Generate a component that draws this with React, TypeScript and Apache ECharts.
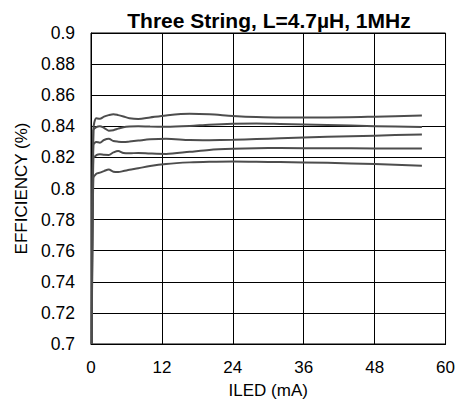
import React, { useEffect, useRef } from "react";
import * as echarts from "echarts";

const iled = [0.15, 0.4, 0.9, 1.5, 2.2, 3.0, 3.8, 4.6, 5.5, 6.5, 8, 10, 12.7, 16.7, 20, 24, 28, 32, 40, 48, 56];

const eff1 = [0.70, 0.838, 0.8452, 0.8448, 0.8462, 0.8472, 0.8478, 0.8472, 0.8463, 0.8452, 0.8447, 0.8457, 0.847, 0.848, 0.8477, 0.8467, 0.846, 0.8457, 0.8457, 0.8462, 0.847];
const eff2 = [0.70, 0.8375, 0.8395, 0.8401, 0.839, 0.8372, 0.8375, 0.8385, 0.8394, 0.8398, 0.84, 0.8398, 0.8397, 0.8402, 0.841, 0.8416, 0.8418, 0.8415, 0.8408, 0.8401, 0.8395];
const eff3 = [0.70, 0.8278, 0.8299, 0.8295, 0.8312, 0.832, 0.8305, 0.8301, 0.8299, 0.8302, 0.8308, 0.8316, 0.832, 0.8312, 0.8311, 0.8313, 0.8318, 0.8323, 0.8332, 0.834, 0.8348];
const eff4 = [0.70, 0.8195, 0.8214, 0.822, 0.8217, 0.8216, 0.8232, 0.8241, 0.8228, 0.8226, 0.8229, 0.8225, 0.8222, 0.8236, 0.8248, 0.8255, 0.8259, 0.826, 0.8259, 0.8258, 0.8258];
const eff5 = [0.70, 0.8065, 0.8095, 0.8102, 0.8112, 0.8122, 0.8108, 0.8106, 0.8112, 0.812, 0.813, 0.8145, 0.8158, 0.8168, 0.8172, 0.8174, 0.8172, 0.817, 0.8165, 0.8157, 0.8147];

const curves = [eff1, eff2, eff3, eff4, eff5];

const titleText = "Three String, L=4.7µH, 1MHz";
const xName = "ILED (mA)";
const yName = "EFFICIENCY (%)";

const FONT = "'Liberation Sans', Arial, sans-serif";

export default function App() {
  const ref = useRef<HTMLDivElement>(null);
  useEffect(() => {
    if (!ref.current) return;
    const chart = echarts.init(ref.current, null, { renderer: "svg" });
    chart.setOption({
      animation: false,
      backgroundColor: "#fff",
      title: {
        text: titleText,
        left: 264,
        top: 5,
        textAlign: "center",
        textStyle: { fontFamily: FONT, fontSize: 21, fontWeight: "bold", color: "#000" },
      },
      grid: {
        left: 91,
        right: 12,
        top: 33,
        bottom: 60,
        show: true,
        borderColor: "#000",
        borderWidth: 1,
        backgroundColor: "transparent",
      },
      xAxis: {
        type: "value",
        min: 0,
        max: 60,
        interval: 12,
        name: xName,
        nameLocation: "middle",
        nameGap: 38,
        nameTextStyle: { fontFamily: FONT, fontSize: 17, color: "#000" },
        axisLine: { show: true, lineStyle: { color: "#000", width: 1 } },
        axisTick: { show: false },
        axisLabel: { fontFamily: FONT, fontSize: 17, color: "#000", margin: 15 },
        splitLine: { show: true, lineStyle: { color: "#000", width: 1 } },
      },
      yAxis: {
        type: "value",
        min: 0.7,
        max: 0.9,
        interval: 0.02,
        name: yName,
        nameLocation: "middle",
        nameGap: 59,
        nameTextStyle: { fontFamily: FONT, fontSize: 17, color: "#000" },
        axisLine: { show: true, lineStyle: { color: "#000", width: 1 } },
        axisTick: { show: false },
        axisLabel: {
          fontFamily: FONT,
          fontSize: 17.5,
          color: "#000",
          margin: 16,
          formatter: (v: number) => String(parseFloat(v.toFixed(2))),
        },
        splitLine: { show: true, lineStyle: { color: "#000", width: 1 } },
      },
      series: curves.map((c) => ({
        type: "line",
        data: iled.map((x, i) => [x, c[i]]),
        showSymbol: false,
        smooth: 0.3,
        lineStyle: { color: "#4d4d4d", width: 2 },
      })),
    });
    return () => chart.dispose();
  }, []);
  return <div ref={ref} style={{ width: 458, height: 404, position: "absolute", left: 0, top: 0 }} />;
}
